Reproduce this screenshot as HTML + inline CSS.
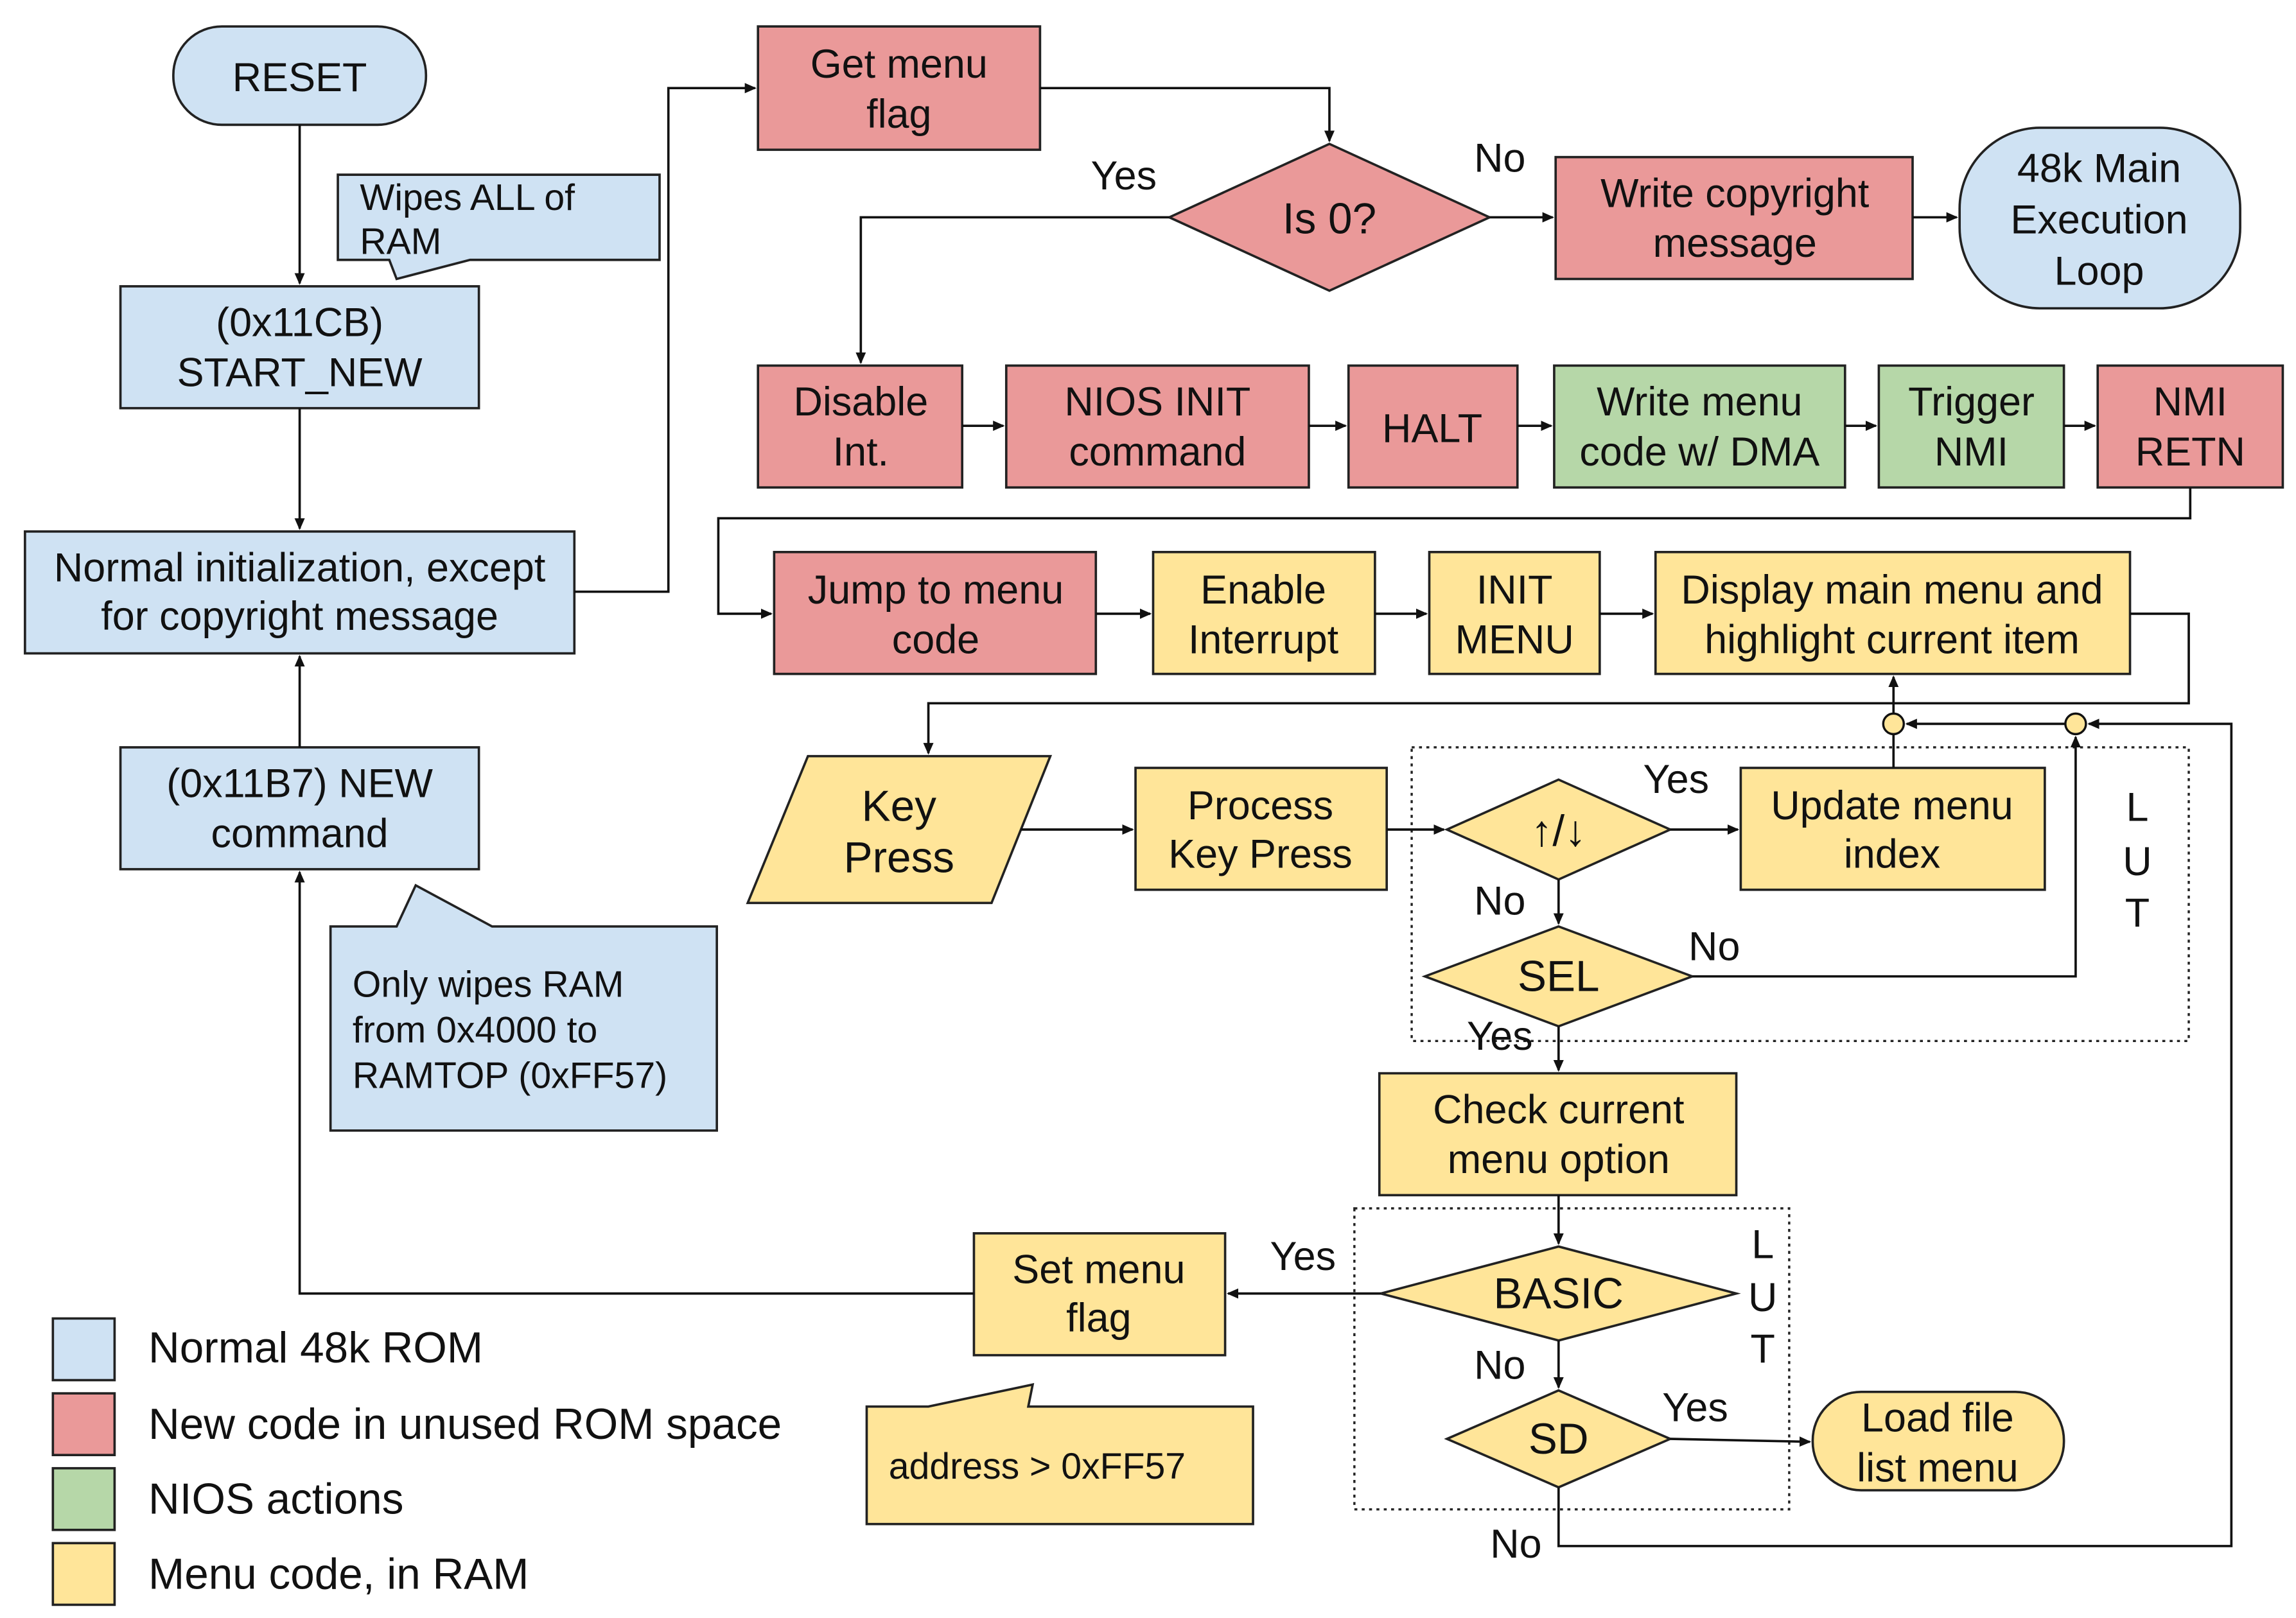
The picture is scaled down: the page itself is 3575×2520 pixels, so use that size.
<!DOCTYPE html>
<html><head><meta charset="utf-8"><style>html,body{margin:0;padding:0;background:#fff}svg{display:block}</style></head>
<body>
<svg xmlns="http://www.w3.org/2000/svg" width="3575" height="2520" viewBox="0 0 1563 1102" preserveAspectRatio="none" font-family="Liberation Sans, Arial, sans-serif">
<defs><marker id="a" markerWidth="8" markerHeight="8" refX="7" refY="4" orient="auto" markerUnits="userSpaceOnUse"><path d="M0,0.5 L8,4 L0,7.5z" fill="#111"/></marker></defs>
<rect width="1563" height="1102" fill="#fff"/>
<g stroke="#222" stroke-width="1.6">
<rect x="118" y="18" width="172" height="67" rx="33" fill="#cfe2f3"/>
<path d="M230,119 H449 V177 H320 L270,190 L265,177 H230Z" fill="#cfe2f3"/>
<rect x="82" y="195" width="244" height="83" fill="#cfe2f3"/>
<rect x="17" y="362" width="374" height="83" fill="#cfe2f3"/>
<rect x="82" y="509" width="244" height="83" fill="#cfe2f3"/>
<path d="M225,631 H270 L283,603 L335,631 H488 V770 H225Z" fill="#cfe2f3"/>
<rect x="1334" y="87" width="191" height="123" rx="55" fill="#cfe2f3"/>
<rect x="516" y="18" width="192" height="84" fill="#ea9999"/>
<path d="M905,98 L1014,148 L905,198 L796,148Z" fill="#ea9999"/>
<rect x="1059" y="107" width="243" height="83" fill="#ea9999"/>
<rect x="516" y="249" width="139" height="83" fill="#ea9999"/>
<rect x="685" y="249" width="206" height="83" fill="#ea9999"/>
<rect x="918" y="249" width="115" height="83" fill="#ea9999"/>
<rect x="1058" y="249" width="198" height="83" fill="#b6d7a8"/>
<rect x="1279" y="249" width="126" height="83" fill="#b6d7a8"/>
<rect x="1428" y="249" width="126" height="83" fill="#ea9999"/>
<rect x="527" y="376" width="219" height="83" fill="#ea9999"/>
<rect x="785" y="376" width="151" height="83" fill="#ffe599"/>
<rect x="973" y="376" width="116" height="83" fill="#ffe599"/>
<rect x="1127" y="376" width="323" height="83" fill="#ffe599"/>
<path d="M509,615 L550,515 L715,515 L675,615Z" fill="#ffe599"/>
<rect x="773" y="523" width="171" height="83" fill="#ffe599"/>
<path d="M1061,531 L1137,565 L1061,599 L985,565Z" fill="#ffe599"/>
<rect x="1185" y="523" width="207" height="83" fill="#ffe599"/>
<path d="M1061,631 L1152,665 L1061,699 L970,665Z" fill="#ffe599"/>
<rect x="939" y="731" width="243" height="83" fill="#ffe599"/>
<path d="M1061,849 L1182,881 L1061,913 L940,881Z" fill="#ffe599"/>
<path d="M1061,947 L1137,980 L1061,1013 L985,980Z" fill="#ffe599"/>
<rect x="1234" y="948" width="171" height="67" rx="33" fill="#ffe599"/>
<rect x="663" y="840" width="171" height="83" fill="#ffe599"/>
<path d="M590,958 H632 L703,943 L700,958 H853 V1038 H590Z" fill="#ffe599"/>
<rect x="36" y="898" width="42" height="42" fill="#cfe2f3"/>
<rect x="36" y="949" width="42" height="42" fill="#ea9999"/>
<rect x="36" y="1000" width="42" height="42" fill="#b6d7a8"/>
<rect x="36" y="1051" width="42" height="42" fill="#ffe599"/>
</g>
<g stroke="#222" stroke-width="1.5" fill="none" stroke-dasharray="2,3">
<rect x="961" y="509" width="529" height="200"/>
<rect x="922" y="823" width="296" height="205"/>
</g>
<g stroke="#111" stroke-width="1.6" fill="none" marker-end="url(#a)">
<path d="M204,85 V193"/>
<path d="M204,278 V360"/>
<path d="M204,509 V447"/>
<path d="M391,403 H455 V60 H514"/>
<path d="M708,60 H905 V96"/>
<path d="M796,148 H586 V247"/>
<path d="M1014,148 H1057"/>
<path d="M1302,148 H1332"/>
<path d="M655,290 H683"/><path d="M891,290 H916"/><path d="M1033,290 H1056"/><path d="M1256,290 H1277"/><path d="M1405,290 H1426"/>
<path d="M1491,332 V353 H489 V418 H525"/>
<path d="M746,418 H783"/><path d="M936,418 H971"/><path d="M1089,418 H1125"/>
<path d="M1450,418 H1490 V479 H632 V513"/>
<path d="M695,565 H771"/>
<path d="M944,565 H983"/>
<path d="M1137,565 H1183"/>
<path d="M1289,523 V461"/>
<path d="M1406,493 H1298"/>
<path d="M1061,599 V629"/>
<path d="M1152,665 H1413 V502"/>
<path d="M1061,699 V729"/>
<path d="M1061,814 V847"/>
<path d="M940,881 H836"/>
<path d="M663,881 H204 V594"/>
<path d="M1061,913 V945"/>
<path d="M1137,980 L1232,982"/>
<path d="M1061,1013 V1053 H1519 V493 H1422"/>
</g>
<g stroke="#111" stroke-width="1.5" fill="#ffe599"><circle cx="1289" cy="493" r="7"/><circle cx="1413" cy="493" r="7"/></g>
<g font-size="27.5" fill="#111" text-anchor="middle">
<text x="204" y="62">RESET</text>
<text x="204" y="229">(0x11CB)</text><text x="204" y="263">START_NEW</text>
<text x="204" y="396">Normal initialization, except</text><text x="204" y="429">for copyright message</text>
<text x="204" y="543">(0x11B7) NEW</text><text x="204" y="577">command</text>
<text x="612" y="53">Get menu</text><text x="612" y="87">flag</text>
<text x="1181" y="141">Write copyright</text><text x="1181" y="175">message</text>
<text x="1429" y="124">48k Main</text><text x="1429" y="159">Execution</text><text x="1429" y="194">Loop</text>
<text x="586" y="283">Disable</text><text x="586" y="317">Int.</text>
<text x="788" y="283">NIOS INIT</text><text x="788" y="317">command</text>
<text x="975" y="301">HALT</text>
<text x="1157" y="283">Write menu</text><text x="1157" y="317">code w/ DMA</text>
<text x="1342" y="283">Trigger</text><text x="1342" y="317">NMI</text>
<text x="1491" y="283">NMI</text><text x="1491" y="317">RETN</text>
<text x="637" y="411">Jump to menu</text><text x="637" y="445">code</text>
<text x="860" y="411">Enable</text><text x="860" y="445">Interrupt</text>
<text x="1031" y="411">INIT</text><text x="1031" y="445">MENU</text>
<text x="1288" y="411">Display main menu and</text><text x="1288" y="445">highlight current item</text>
<text x="612" y="559" font-size="29.5">Key</text><text x="612" y="594" font-size="29.5">Press</text>
<text x="858" y="558">Process</text><text x="858" y="591">Key Press</text>
<text x="1288" y="558">Update menu</text><text x="1288" y="591">index</text>
<text x="1061" y="765">Check current</text><text x="1061" y="799">menu option</text>
<text x="1319" y="975">Load file</text><text x="1319" y="1009">list menu</text>
<text x="748" y="874">Set menu</text><text x="748" y="907">flag</text>
<text x="765" y="129">Yes</text><text x="1021" y="117">No</text>
<text x="1141" y="540">Yes</text><text x="1021" y="623">No</text>
<text x="1167" y="654">No</text><text x="1021" y="715">Yes</text>
<text x="887" y="865">Yes</text><text x="1021" y="939">No</text>
<text x="1154" y="968">Yes</text><text x="1032" y="1061">No</text>
<text x="1455" y="559">L</text><text x="1455" y="596">U</text><text x="1455" y="631">T</text>
<text x="1200" y="857">L</text><text x="1200" y="893">U</text><text x="1200" y="928">T</text>
</g>
<g font-size="29.5" fill="#111" text-anchor="middle">
<text x="905" y="159">Is 0?</text>
<text x="1061" y="576">↑/↓</text>
<text x="1061" y="675">SEL</text>
<text x="1061" y="891">BASIC</text>
<text x="1061" y="990">SD</text>
</g>
<g font-size="25" fill="#111">
<text x="245" y="143">Wipes ALL of</text><text x="245" y="173">RAM</text>
<text x="240" y="679">Only wipes RAM</text><text x="240" y="710">from 0x4000 to</text><text x="240" y="741">RAMTOP (0xFF57)</text>
<text x="605" y="1007">address &gt; 0xFF57</text>
</g>
<g font-size="29.5" fill="#111">
<text x="101" y="928">Normal 48k ROM</text>
<text x="101" y="980">New code in unused ROM space</text>
<text x="101" y="1031">NIOS actions</text>
<text x="101" y="1082">Menu code, in RAM</text>
</g>
</svg>
</body></html>
